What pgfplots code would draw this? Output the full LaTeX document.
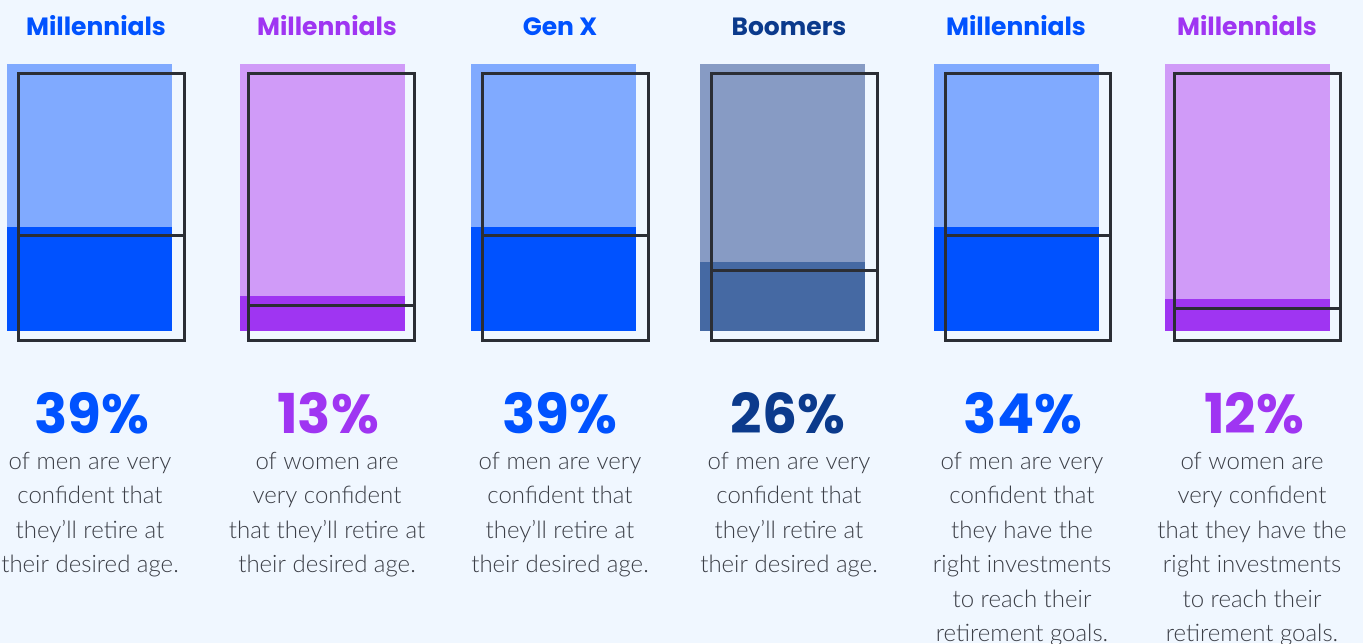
\documentclass[border=0pt]{standalone}
\usepackage{pgfplots}
\pgfplotsset{compat=1.18}
\usepackage{fontspec}
\IfFontExistsTF{Lato Light}{\setmainfont{Lato Light}}{\setmainfont{Lato}}
\newfontfamily\headfont{Poppins}

\definecolor{bgcol}{HTML}{F0F7FF}
\definecolor{blueL}{HTML}{80AAFF}
\definecolor{blueD}{HTML}{0052FF}
\definecolor{purpL}{HTML}{D09BF8}
\definecolor{purpD}{HTML}{9F35F2}
\definecolor{boomL}{HTML}{879BC4}
\definecolor{boomD}{HTML}{4569A3}
\definecolor{boomT}{HTML}{0B3A8C}
\definecolor{frame}{HTML}{2B2E35}
\definecolor{txt}{HTML}{3B3E46}

% 1 px of the reference = 0.5pt
\newcommand{\picW}{681.5pt}
\newcommand{\picH}{321.5pt}

\tikzset{
  heading/.style={font=\headfont\bfseries\fontsize{12.5pt}{15pt}\selectfont, anchor=base, inner sep=0},
  pct/.style={font=\headfont\bfseries\fontsize{27.5pt}{30pt}\selectfont, anchor=base, inner sep=0},
  body/.style={font=\fontsize{12pt}{17.25pt}\selectfont, text=txt, align=center, anchor=north, inner sep=0},
  frm/.style={draw=frame, line width=1.5pt},
}

\begin{document}
\begin{tikzpicture}
\useasboundingbox (0,0) rectangle (\picW,\picH);
\clip (0,0) rectangle (\picW,\picH);
\fill[bgcol] (0,0) rectangle (\picW,\picH);
\begin{axis}[
  at={(0,0)}, anchor=south west,
  width=\picW, height=\picH, scale only axis,
  hide axis, clip=false,
  xmin=0, xmax=1363,
  ymin=-116.85, ymax=123.97,
]
% ---- panel 1: Millennials men 39
\addplot[fill=blueL, draw=none] coordinates {(7,0) (7,100) (172,100) (172,0)} -- cycle;
\addplot[fill=blueD, draw=none] coordinates {(7,0) (7,39) (172,39) (172,0)} -- cycle;
\addplot[frm] coordinates {(18,-3.4) (18,96.6) (184,96.6) (184,-3.4)} -- cycle;
\addplot[frm] coordinates {(18,35.6) (184,35.6)};
% ---- panel 2: Millennials women 13
\addplot[fill=purpL, draw=none] coordinates {(240,0) (240,100) (405,100) (405,0)} -- cycle;
\addplot[fill=purpD, draw=none] coordinates {(240,0) (240,13) (405,13) (405,0)} -- cycle;
\addplot[frm] coordinates {(248,-3.4) (248,96.6) (414,96.6) (414,-3.4)} -- cycle;
\addplot[frm] coordinates {(248,9.6) (414,9.6)};
% ---- panel 3: Gen X men 39
\addplot[fill=blueL, draw=none] coordinates {(471,0) (471,100) (636,100) (636,0)} -- cycle;
\addplot[fill=blueD, draw=none] coordinates {(471,0) (471,39) (636,39) (636,0)} -- cycle;
\addplot[frm] coordinates {(482,-3.4) (482,96.6) (648,96.6) (648,-3.4)} -- cycle;
\addplot[frm] coordinates {(482,35.6) (648,35.6)};
% ---- panel 4: Boomers men 26
\addplot[fill=boomL, draw=none] coordinates {(700,0) (700,100) (865,100) (865,0)} -- cycle;
\addplot[fill=boomD, draw=none] coordinates {(700,0) (700,26) (865,26) (865,0)} -- cycle;
\addplot[frm] coordinates {(711,-3.4) (711,96.6) (877,96.6) (877,-3.4)} -- cycle;
\addplot[frm] coordinates {(711,22.6) (877,22.6)};
% ---- panel 5: Millennials men (bar drawn at the same height as 39)
\addplot[fill=blueL, draw=none] coordinates {(934,0) (934,100) (1099,100) (1099,0)} -- cycle;
\addplot[fill=blueD, draw=none] coordinates {(934,0) (934,39) (1099,39) (1099,0)} -- cycle;
\addplot[frm] coordinates {(945,-3.4) (945,96.6) (1110,96.6) (1110,-3.4)} -- cycle;
\addplot[frm] coordinates {(945,35.6) (1110,35.6)};
% ---- panel 6: Millennials women 12
\addplot[fill=purpL, draw=none] coordinates {(1165,0) (1165,100) (1330,100) (1330,0)} -- cycle;
\addplot[fill=purpD, draw=none] coordinates {(1165,0) (1165,12) (1330,12) (1330,0)} -- cycle;
\addplot[frm] coordinates {(1174,-3.4) (1174,96.6) (1340,96.6) (1340,-3.4)} -- cycle;
\addplot[frm] coordinates {(1174,8.6) (1340,8.6)};

% headings
\node[heading, text=blueD] at (axis cs:96,110.5) {Millennials};
\node[heading, text=purpD] at (axis cs:327,110.5) {Millennials};
\node[heading, text=blueD] at (axis cs:560,110.5) {Gen X};
\node[heading, text=boomT] at (axis cs:789,110.5) {Boomers};
\node[heading, text=blueD] at (axis cs:1016,110.5) {Millennials};
\node[heading, text=purpD] at (axis cs:1247,110.5) {Millennials};

% percentages
\node[pct, text=blueD] at (axis cs:92,-38.2) {39\%};
\node[pct, text=purpD] at (axis cs:328,-38.2) {13\%};
\node[pct, text=blueD] at (axis cs:560,-38.2) {39\%};
\node[pct, text=boomT] at (axis cs:788,-38.2) {26\%};
\node[pct, text=blueD] at (axis cs:1023,-38.2) {34\%};
\node[pct, text=purpD] at (axis cs:1254,-38.2) {12\%};

% descriptions
\node[body] at (axis cs:90,-45.2) {of men are very\\confident that\\they’ll retire at\\their desired age.};
\node[body] at (axis cs:327,-45.2) {of women are\\very confident\\that they’ll retire at\\their desired age.};
\node[body] at (axis cs:560,-45.2) {of men are very\\confident that\\they’ll retire at\\their desired age.};
\node[body] at (axis cs:789,-45.2) {of men are very\\confident that\\they’ll retire at\\their desired age.};
\node[body] at (axis cs:1022,-45.2) {of men are very\\confident that\\they have the\\right investments\\to reach their\\retirement goals.};
\node[body] at (axis cs:1252,-45.2) {of women are\\very confident\\that they have the\\right investments\\to reach their\\retirement goals.};
\end{axis}
\end{tikzpicture}
\end{document}
